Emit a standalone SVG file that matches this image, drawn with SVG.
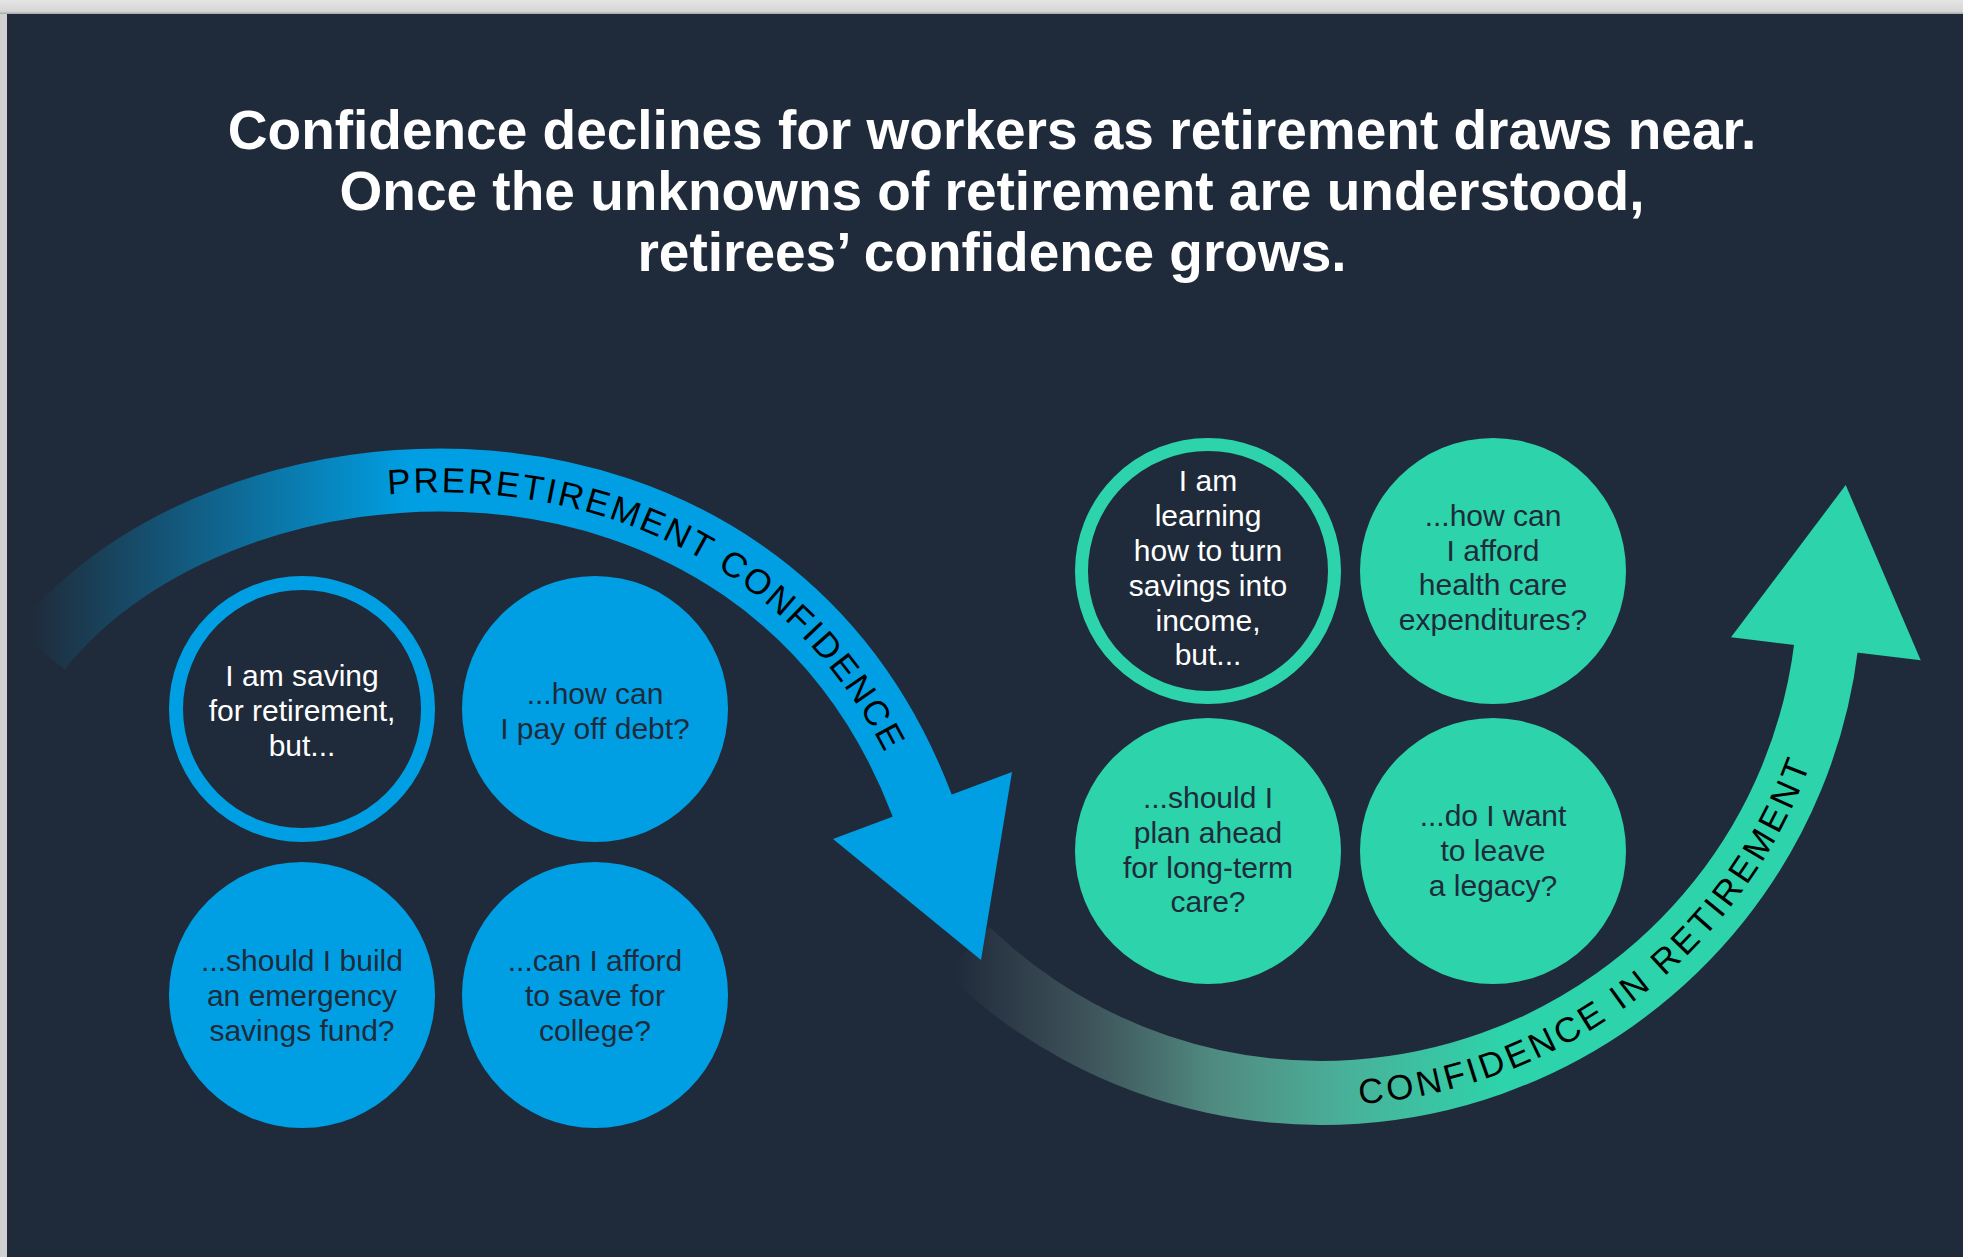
<svg xmlns="http://www.w3.org/2000/svg" xmlns:xlink="http://www.w3.org/1999/xlink" width="1963" height="1257" viewBox="0 0 1963 1257">
  <defs>
    <linearGradient id="topBand" x1="0" y1="0" x2="0" y2="1">
      <stop offset="0" stop-color="#e4e4e4"/>
      <stop offset="0.8" stop-color="#d6d6d6"/>
      <stop offset="1" stop-color="#a8a8a8"/>
    </linearGradient>
    <linearGradient id="leftBand" x1="0" y1="0" x2="1" y2="0">
      <stop offset="0" stop-color="#d0d0d0"/>
      <stop offset="0.7" stop-color="#c0c0c0"/>
      <stop offset="1" stop-color="#9c9c9c"/>
    </linearGradient>
    <linearGradient id="blueFade" gradientUnits="userSpaceOnUse" x1="30" y1="0" x2="410" y2="0">
      <stop offset="0" stop-color="#009fe3" stop-opacity="0"/>
      <stop offset="1" stop-color="#009fe3" stop-opacity="1"/>
    </linearGradient>
    <linearGradient id="tealFade" gradientUnits="userSpaceOnUse" x1="955" y1="0" x2="1500" y2="0">
      <stop offset="0" stop-color="#828c91" stop-opacity="0"/>
      <stop offset="0.23" stop-color="#729890" stop-opacity="0.35"/>
      <stop offset="0.47" stop-color="#6abda6" stop-opacity="0.65"/>
      <stop offset="0.72" stop-color="#4fc7a9" stop-opacity="0.86"/>
      <stop offset="1" stop-color="#2dd3aa" stop-opacity="1"/>
    </linearGradient>
    <path id="bluePath" d="M40,650 C220,420 760,380 922,805 l2,5"/>
    <path id="tealPath" d="M967.4,950.1 A509,509 0 0 0 1826.4,644.3"/>
  </defs>
  <style>
    .title { font-family: "Liberation Sans", Arial, Helvetica, sans-serif; font-weight: bold; font-size: 55px; fill: #ffffff; text-anchor: middle; }
    .node-text { font-family: "Liberation Sans", Arial, Helvetica, sans-serif; font-size: 30px; text-anchor: middle; }
    .light { fill: #ffffff; }
    .dark { fill: #1f2b3a; }
    .arc-label { font-family: "Liberation Sans", Arial, Helvetica, sans-serif; font-size: 35px; letter-spacing: 3px; fill: #000000; }
    .blue-fill { fill: #009fe3; }
    .teal-fill { fill: #2dd3aa; }
    .blue-ring { fill: #1f2b3a; stroke: #009fe3; stroke-width: 14; }
    .teal-ring { fill: #1f2b3a; stroke: #2dd3aa; stroke-width: 13; }
  </style>

  <!-- page frame -->
  <rect x="0" y="0" width="1963" height="1257" fill="url(#leftBand)"/>
  <rect x="0" y="0" width="1963" height="14" fill="url(#topBand)"/>
  <rect x="7" y="14" width="1956" height="1243" fill="#1f2b3a"/>

  <!-- title -->
  <g id="title">
    <text class="title" x="992" y="149">Confidence declines for workers as retirement draws near.</text>
    <text class="title" x="992" y="210">Once the unknowns of retirement are understood,</text>
    <text class="title" x="992" y="271">retirees’ confidence grows.</text>
  </g>

  <!-- connectors -->
  <g id="connectors">
    <g id="confidence-in-retirement">
      <use xlink:href="#tealPath" href="#tealPath" fill="none" stroke="url(#tealFade)" stroke-width="64"/>
      <polygon class="teal-fill" points="1731,637.3 1845.7,485 1920.7,660.3"/>
      <text class="arc-label" dy="12.5"><textPath xlink:href="#tealPath" href="#tealPath" startOffset="428">CONFIDENCE IN RETIREMENT</textPath></text>
    </g>
    <g id="preretirement-confidence">
      <use xlink:href="#bluePath" href="#bluePath" fill="none" stroke="url(#blueFade)" stroke-width="63"/>
      <polygon class="blue-fill" points="833,839 1012,772 981,960"/>
      <text class="arc-label" dy="12.5"><textPath xlink:href="#bluePath" href="#bluePath" startOffset="396">PRERETIREMENT CONFIDENCE</textPath></text>
    </g>
  </g>

  <!-- preretirement nodes -->
  <g id="node-saving">
    <circle class="blue-ring" cx="302" cy="709" r="126"/>
    <text class="node-text light" x="302" y="686">I am saving</text>
    <text class="node-text light" x="302" y="721">for retirement,</text>
    <text class="node-text light" x="302" y="756">but...</text>
  </g>
  <g id="node-debt">
    <circle class="blue-fill" cx="595" cy="709" r="133"/>
    <text class="node-text dark" x="595" y="704">...how can</text>
    <text class="node-text dark" x="595" y="739">I pay off debt?</text>
  </g>
  <g id="node-emergency">
    <circle class="blue-fill" cx="302" cy="995" r="133"/>
    <text class="node-text dark" x="302" y="971">...should I build</text>
    <text class="node-text dark" x="302" y="1006">an emergency</text>
    <text class="node-text dark" x="302" y="1041">savings fund?</text>
  </g>
  <g id="node-college">
    <circle class="blue-fill" cx="595" cy="995" r="133"/>
    <text class="node-text dark" x="595" y="971">...can I afford</text>
    <text class="node-text dark" x="595" y="1006">to save for</text>
    <text class="node-text dark" x="595" y="1041">college?</text>
  </g>

  <!-- retirement nodes -->
  <g id="node-learning">
    <circle class="teal-ring" cx="1208" cy="571" r="126.5"/>
    <text class="node-text light" x="1208" y="491">I am</text>
    <text class="node-text light" x="1208" y="526">learning</text>
    <text class="node-text light" x="1208" y="561">how to turn</text>
    <text class="node-text light" x="1208" y="596">savings into</text>
    <text class="node-text light" x="1208" y="631">income,</text>
    <text class="node-text light" x="1208" y="665">but...</text>
  </g>
  <g id="node-health">
    <circle class="teal-fill" cx="1493" cy="571" r="133"/>
    <text class="node-text dark" x="1493" y="526">...how can</text>
    <text class="node-text dark" x="1493" y="561">I afford</text>
    <text class="node-text dark" x="1493" y="595">health care</text>
    <text class="node-text dark" x="1493" y="630">expenditures?</text>
  </g>
  <g id="node-longterm">
    <circle class="teal-fill" cx="1208" cy="851" r="133"/>
    <text class="node-text dark" x="1208" y="808">...should I</text>
    <text class="node-text dark" x="1208" y="843">plan ahead</text>
    <text class="node-text dark" x="1208" y="878">for long-term</text>
    <text class="node-text dark" x="1208" y="912">care?</text>
  </g>
  <g id="node-legacy">
    <circle class="teal-fill" cx="1493" cy="851" r="133"/>
    <text class="node-text dark" x="1493" y="826">...do I want</text>
    <text class="node-text dark" x="1493" y="861">to leave</text>
    <text class="node-text dark" x="1493" y="896">a legacy?</text>
  </g>
</svg>
